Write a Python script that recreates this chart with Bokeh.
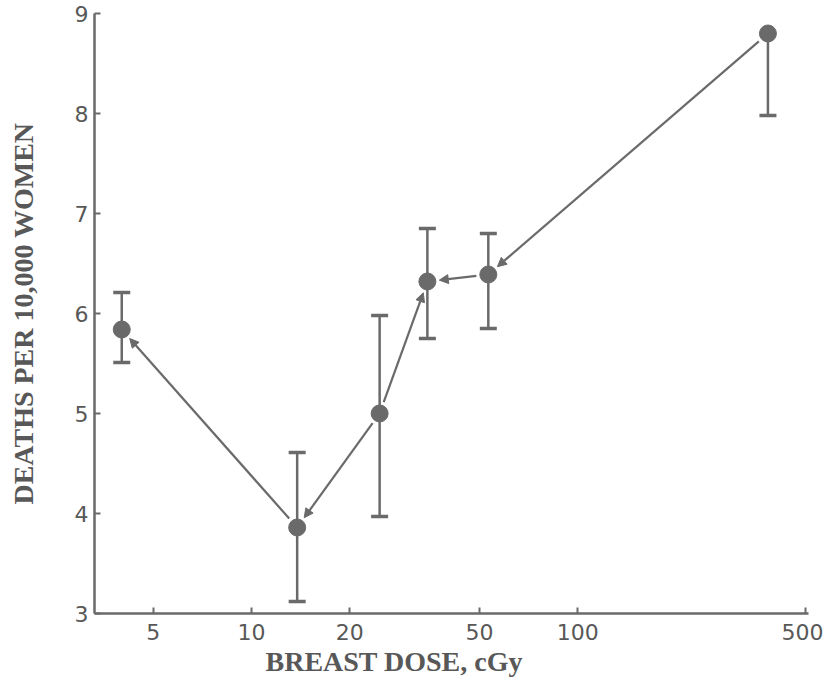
import math
from bokeh.plotting import figure
from bokeh.models import (ColumnDataSource, FixedTicker, Arrow, NormalHead, Title, Range1d)
from bokeh.embed import file_html
from bokeh.resources import INLINE

# ---- data ----
dose = [4.0, 13.8, 24.7, 34.6, 53.2, 383.0]
deaths = [5.84, 3.86, 5.00, 6.32, 6.39, 8.80]
err_low = [5.51, 3.12, 3.97, 5.75, 5.85, 7.98]
err_high = [6.21, 4.61, 5.98, 6.85, 6.80, float("nan")]
x_ticks = [5, 10, 20, 50, 100, 500]
x_tick_labels = ["5", "10", "20", "50", "100", "500"]
y_ticks = [3, 4, 5, 6, 7, 8, 9]
# arrows drawn from -> to (head at "to")
arrow_from = [1, 2, 2, 4, 5]
arrow_to = [0, 1, 3, 3, 4]

# ---- layout ----
W, H = 823, 695
BL, BR, BT, BB = 94, 15, 13, 82
X0, X1 = 3.3, 510.0
Y0, Y1 = 3.0, 9.0
GRAY = "#6a6a6a"
TXT = "#585858"

p = figure(width=W, height=H, x_axis_type="log", output_backend="svg",
           toolbar_location=None, x_range=Range1d(X0, X1), y_range=Range1d(Y0, Y1),
           min_border_left=BL, min_border_right=BR, min_border_top=BT,
           min_border_bottom=BB)
p.outline_line_color = None
p.grid.visible = False
p.background_fill_color = "white"
p.border_fill_color = "white"

# axes styling
for ax in (p.xaxis[0], p.yaxis[0]):
    ax.axis_line_color = GRAY
    ax.axis_line_width = 2.5
    ax.major_tick_line_color = GRAY
    ax.major_tick_line_width = 2
    ax.major_tick_in = 6
    ax.major_tick_out = 0
    ax.minor_tick_line_color = None
    ax.major_label_text_color = TXT
    ax.major_label_text_font = "DejaVu Sans"
    ax.major_label_text_font_size = "22px"

p.xaxis.ticker = FixedTicker(ticks=x_ticks)
p.xaxis.major_label_overrides = {t: l for t, l in zip(x_ticks, x_tick_labels)}
p.xaxis.major_label_standoff = 10
p.yaxis.ticker = FixedTicker(ticks=y_ticks)
p.yaxis.major_label_overrides = {t: str(t) for t in y_ticks}
p.yaxis.major_label_standoff = 6

p.yaxis.axis_label = "DEATHS PER 10,000 WOMEN"
p.yaxis.axis_label_text_font = "Liberation Serif"
p.yaxis.axis_label_text_font_style = "bold"
p.yaxis.axis_label_text_font_size = "28px"
p.yaxis.axis_label_text_color = TXT
p.yaxis.axis_label_standoff = 33

# x-axis title, offset to the left like the original
p.add_layout(Title(text="BREAST DOSE, cGy", align="left", offset=171, standoff=3,
                   text_font="Liberation Serif", text_font_style="bold",
                   text_font_size="28px", text_color=TXT), "below")

# ---- error bars ----
seg_top = [h if not math.isnan(h) else d for h, d in zip(err_high, deaths)]
p.segment(x0=dose, y0=err_low, x1=dose, y1=seg_top, line_color=GRAY, line_width=2.5)
p.scatter(x=dose, y=err_low, marker="dash", size=17, line_color=GRAY, line_width=3.5)
hi_x = [d for d, h in zip(dose, err_high) if not math.isnan(h)]
hi_y = [h for h in err_high if not math.isnan(h)]
p.scatter(x=hi_x, y=hi_y, marker="dash", size=17, line_color=GRAY, line_width=3.5)

# ---- arrows (shortened so they stop short of the points) ----
fw = W - BL - BR
fh = H - BT - BB
kx = fw / (math.log10(X1) - math.log10(X0))
ky = fh / (Y1 - Y0)
GAP = 12
xs, ys, xe, ye = [], [], [], []
for a, b in zip(arrow_from, arrow_to):
    ax_, ay_ = math.log10(dose[a]) * kx, deaths[a] * ky
    bx_, by_ = math.log10(dose[b]) * kx, deaths[b] * ky
    L = math.hypot(bx_ - ax_, by_ - ay_)
    ux, uy = (bx_ - ax_) / L, (by_ - ay_) / L
    xs.append(10 ** ((ax_ + ux * GAP) / kx)); ys.append((ay_ + uy * GAP) / ky)
    xe.append(10 ** ((bx_ - ux * GAP) / kx)); ye.append((by_ - uy * GAP) / ky)
asrc = ColumnDataSource(dict(xs=xs, ys=ys, xe=xe, ye=ye))
p.add_layout(Arrow(end=NormalHead(size=9, fill_color=GRAY, line_color=GRAY, line_width=1),
                   x_start="xs", y_start="ys", x_end="xe", y_end="ye", source=asrc,
                   line_color=GRAY, line_width=2.2))

# ---- points ----
p.scatter(x=dose, y=deaths, size=17, fill_color=GRAY, line_color=GRAY)

open("out.html", "w").write(file_html(p, INLINE))
